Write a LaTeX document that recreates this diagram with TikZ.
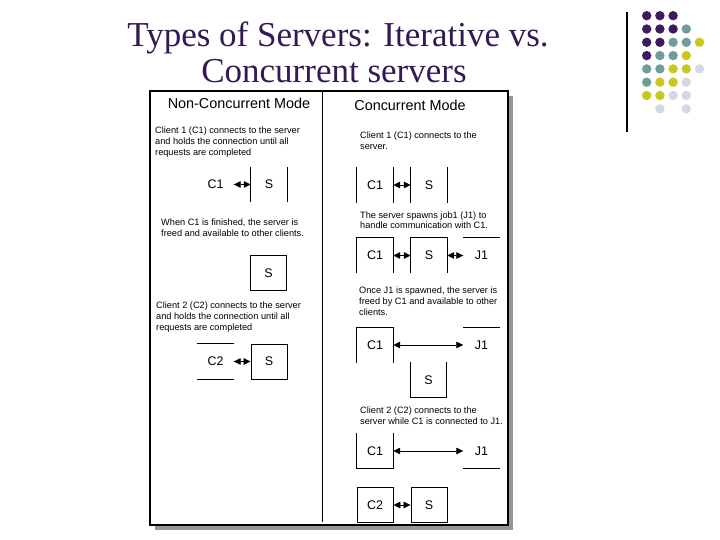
\documentclass[tikz,border=0pt]{standalone}
\usepackage{fontspec}
\setmainfont{Liberation Serif}
\setsansfont{Liberation Sans}
\usetikzlibrary{arrows.meta}
\definecolor{titlepurple}{RGB}{51,26,84}
\definecolor{dotpurple}{RGB}{62,26,94}
\definecolor{dotteal}{RGB}{112,156,156}
\definecolor{dotyellow}{RGB}{200,200,30}
\definecolor{dotlav}{RGB}{214,214,230}
\definecolor{shadowgray}{RGB}{150,150,150}
\begin{document}
\begin{tikzpicture}[x=1pt,y=-1pt,
  box/.style={minimum width=36pt, minimum height=35pt, inner sep=0pt, font=\sffamily\fontsize{12.5}{14}\selectfont},
  side/.style={line width=0.9pt},
  link/.style={line width=0.7pt, {Triangle[length=7pt,width=6.5pt]}-{Triangle[length=7pt,width=6.5pt]}},
  desc/.style={anchor=north west, inner sep=0pt, align=left, font=\sffamily\fontsize{9.2}{10.6}\selectfont},
  head/.style={inner sep=0pt, font=\sffamily\fontsize{14.4}{16}\selectfont},
  titletext/.style={anchor=base, inner sep=0pt, text=titlepurple, font=\fontsize{35}{37}\selectfont}
]
\useasboundingbox (0,0) rectangle (720,540);
\fill[white] (0,0) rectangle (720,540);

% title
\node[titletext] (title1) at (338,47) {Types of Servers: Iterative vs.};
\node[titletext] (title2) at (334,83) {Concurrent servers};

% decoration
\draw[line width=1.2pt] (627,12) -- (627,132);
\foreach \c/\r/\col in {0/0/dotpurple,1/0/dotpurple,2/0/dotpurple,
  0/1/dotpurple,1/1/dotpurple,2/1/dotpurple,3/1/dotteal,
  0/2/dotpurple,1/2/dotpurple,2/2/dotteal,3/2/dotteal,4/2/dotyellow,
  0/3/dotpurple,1/3/dotteal,2/3/dotteal,3/3/dotyellow,
  0/4/dotteal,1/4/dotteal,2/4/dotyellow,3/4/dotyellow,4/4/dotlav,
  0/5/dotteal,1/5/dotyellow,2/5/dotyellow,3/5/dotlav,
  0/6/dotyellow,1/6/dotyellow,2/6/dotlav,3/6/dotlav,
  1/7/dotlav,3/7/dotlav}
  \fill[\col] (646.7+13.2*\c, 15.7+13.3*\r) circle (4.7pt);

% panel
\fill[shadowgray] (155,96) rectangle (513,530);
\draw[line width=1.3pt, fill=white] (150,91) rectangle (508,525);
\draw[line width=1pt] (322,91) -- (322,522);

% headers
\node[head] (hl) at (239,103) {Non-Concurrent Mode};
\node[head] (hr) at (410,105) {Concurrent Mode};

% left texts
\node[desc] (lt1) at (155,127) {Client 1 (C1) connects to the server\\and holds the connection until all\\requests are completed};
\node[desc] (lt2) at (161,219) {When C1 is finished, the server is\\freed and available to other clients.};
\node[desc] (lt3) at (156,302) {Client 2 (C2) connects to the server\\and holds the connection until all\\requests are completed};

% right texts
\node[desc] (rt1) at (360,132) {Client 1 (C1) connects to the\\server.};
\node[desc] (rt2) at (360,211.5) {The server spawns job1 (J1) to\\handle communication with C1.};
\node[desc] (rt3) at (359,287) {Once J1 is spawned, the server is\\freed by C1 and available to other\\clients.};
\node[desc] (rt4) at (360,407) {Client 2 (C2) connects to the\\server while C1 is connected to J1.};

% left diagrams
\node[box] (lc1) at (215.5,184.5) {C1};
\node[box] (ls1) at (269,184.5) {S};
\draw[side] (ls1.north west) -- (ls1.south west) (ls1.north east) -- (ls1.south east);
\draw[link] (lc1.east) -- (ls1.west);

\node[box, draw, side] (ls2) at (268.5,273) {S};

\node[box] (lc2) at (215.5,361.5) {C2};
\draw[side] (lc2.north west) -- (lc2.north east) (lc2.south west) -- (lc2.south east);
\node[box, draw, side] (ls3) at (269,361.5) {S};
\draw[link] (lc2.east) -- (ls3.west);

% right diagrams
\node[box] (rc1) at (375,185) {C1};
\node[box] (rs1) at (429,185) {S};
\draw[side] (rc1.north west) -- (rc1.south west) (rc1.north east) -- (rc1.south east);
\draw[side] (rs1.north west) -- (rs1.south west) (rs1.north east) -- (rs1.south east);
\draw[link] (rc1.east) -- (rs1.west);

\node[box] (rc2) at (375,255.5) {C1};
\node[box] (rs2) at (429,255.5) {S};
\node[box] (rj2) at (481.5,255.5) {J1};
\draw[side] (rc2.south west) -- (rc2.north west) -- (rc2.north east) -- (rc2.south east);
\draw[side] (rs2.south west) -- (rs2.north west) -- (rs2.north east) -- (rs2.south east);
\draw[side] (rj2.north west) -- (rj2.north east);
\draw[link] (rc2.east) -- (rs2.west);
\draw[link] (rs2.east) -- (rj2.west);

\node[box] (rc3) at (375,345) {C1};
\node[box] (rj3) at (481.5,345) {J1};
\node[box] (rs3) at (428.5,380) {S};
\draw[side] (rc3.south west) -- (rc3.north west) -- (rc3.north east) -- (rc3.south east);
\draw[side] (rj3.north west) -- (rj3.north east);
\draw[side] (rs3.north west) -- (rs3.south west) -- (rs3.south east) -- (rs3.north east);
\draw[link] (rc3.east) -- (rj3.west);

\node[box] (rc4) at (375,451) {C1};
\node[box] (rj4) at (481.5,451) {J1};
\draw[side] (rc4.north west) -- (rc4.south west) -- (rc4.south east) -- (rc4.north east);
\draw[side] (rj4.south west) -- (rj4.south east);
\draw[link] (rc4.east) -- (rj4.west);

\node[box, draw, side] (rc5) at (375,505) {C2};
\node[box, draw, side] (rs5) at (429,505) {S};
\draw[link] (rc5.east) -- (rs5.west);
\end{tikzpicture}
\end{document}
